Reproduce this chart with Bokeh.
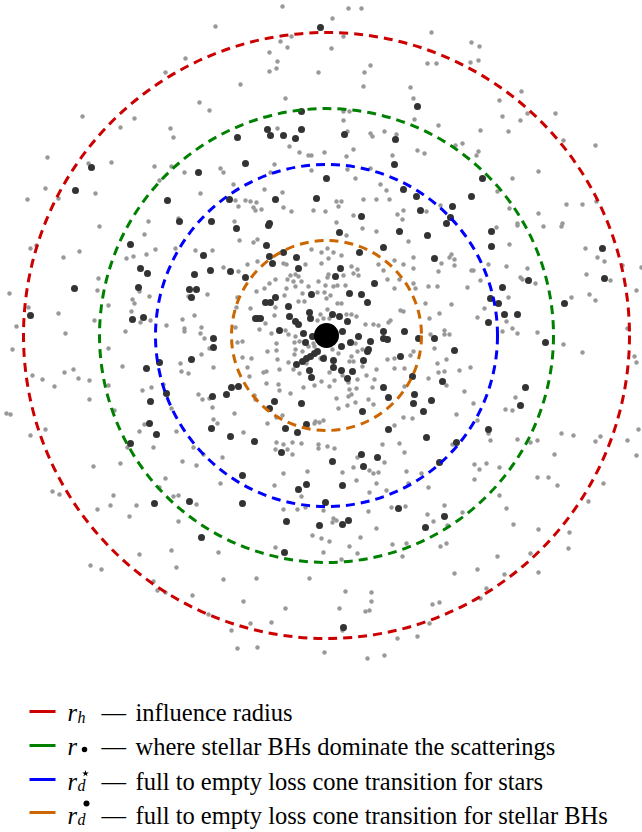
from bokeh.plotting import figure
from bokeh.models import Range1d, Label
from bokeh.embed import file_html
from bokeh.resources import INLINE

# ---------------- data (positions in picture units, y pointing down) ----------------
center = (326, 335)                      # central massive black hole
radii_names = ["r_h", "r_bullet", "r_d_star", "r_d_bullet"]
radii = [303, 227, 171, 95]
radii_colors = ["#cc0000", "#008000", "#0000ff", "#cc6600"]

legend_texts = [
    "influence radius",
    "where stellar BHs dominate the scatterings",
    "full to empty loss cone transition for stars",
    "full to empty loss cone transition for stellar BHs",
]

gray_stars = [
    (185,58),(165,72),(199,102),(209,110),(82,116),(134,118),(120,127),(170,128),(173,137),(47,157),
    (111,162),(88,163),(154,166),(171,166),(184,172),(159,180),(45,188),(58,198),(95,193),(27,199),
    (200,193),(148,221),(178,218),
    (282,6),(348,8),(361,8),(332,18),(215,26),(343,36),(280,41),(291,36),(269,52),(287,47),(331,48),
    (277,61),(269,71),(276,68),(318,72),(370,65),(364,72),(427,63),(240,84),(363,86),(410,87),(285,98),
    (413,98),(343,111),(349,111),(414,119),(343,120),(277,128),(347,131),(370,133),(372,136),(384,131),
    (396,134),(289,146),(353,149),(299,152),(308,155),(311,155),(324,152),(346,156),(392,155),(417,150),
    (424,153),(274,164),(220,168),(223,172),(311,170),(347,169),(370,168),(270,172),(355,178),(233,184),
    (264,189),(282,192),(380,184),(386,190),(235,200),(245,200),(250,201),(256,202),(238,206),(253,207),
    (255,210),(261,209),(283,207),(291,211),(313,210),(325,211),(336,201),(341,201),(338,206),(363,199),
    (376,199),(389,199),(397,214),(403,210),(402,219),(353,215),(336,222),(234,221),(426,211),
    (431,32),(471,42),(479,46),(436,63),(470,62),(478,60),(521,91),(499,100),(527,113),(555,113),
    (502,116),(520,120),(438,125),(480,130),(508,131),(563,140),(595,145),(455,145),(462,143),(478,151),
    (476,155),(538,171),(512,178),(497,191),(566,204),(582,204),(596,201),(509,208),(538,213),(440,205),
    (517,223),(562,223),
    (99,226),(144,234),(36,245),(30,248),(79,251),(63,257),(126,258),(133,256),(146,254),(155,249),
    (175,248),(195,250),(212,250),(98,278),(97,290),(9,293),(132,299),(134,303),(149,296),(139,291),
    (108,305),(28,307),(58,313),(131,311),(94,320),(140,322),(150,320),(166,325),(182,319),(194,315),
    (188,296),(207,294),(16,326),(65,333),(125,331),(184,328),(184,331),(201,327),(200,333),(204,338),
    (12,349),(108,348),(209,348),(201,354),(122,366),(180,363),(181,371),(188,373),(213,367),(32,375),
    (42,379),(64,372),(73,369),(78,378),(89,380),(54,386),(108,385),(142,390),(151,387),(163,384),
    (89,399),(198,394),(202,399),(209,398),(171,408),(212,407),(114,410),(6,413),(10,414),(45,429),
    (30,435),(144,424),(139,431),(176,431),(213,419),(127,447),(153,447),(193,447),
    (239,240),(257,239),(253,242),(311,249),(321,252),(327,248),(333,252),(346,235),(362,228),(376,231),
    (408,241),(413,257),(428,286),(223,267),(238,271),(247,264),(257,261),(283,263),(286,264),(305,264),
    (321,263),(328,258),(341,255),(351,266),(357,269),(353,273),(358,275),(378,264),(383,270),(394,260),
    (403,264),(413,268),(290,275),(295,274),(298,276),(287,279),(293,281),(301,281),(308,286),(318,281),
    (327,277),(325,285),(333,286),(337,285),(345,285),(343,275),(328,274),(275,279),(269,283),(264,288),
    (256,291),(237,297),(236,307),(286,288),(295,286),(302,293),(284,295),(298,301),(304,301),(317,292),
    (324,292),(330,295),(326,298),(337,303),(341,303),(327,309),(320,314),(323,318),(329,318),(317,320),
    (346,314),(351,314),(356,316),(365,324),(373,324),(378,325),(390,320),(388,322),(400,310),(403,311),
    (394,288),(387,279),(399,279),(413,283),(415,288),(425,303),(274,315),(275,307),(250,308),(265,323),
    (259,329),(271,333),(285,330),(288,334),(295,336),(294,342),(299,341),(306,341),(313,343),(308,346),
    (314,346),(302,351),(295,349),(294,354),(276,343),(276,350),(267,351),(251,358),(242,357),(237,342),
    (242,341),(235,327),(247,367),(263,372),(266,371),(266,383),(278,384),(279,390),(290,393),(277,359),
    (279,369),(288,362),(293,369),(306,363),(299,373),(303,387),(314,385),(321,381),(329,386),(329,372),
    (334,380),(342,375),(348,382),(349,389),(351,394),(348,396),(356,388),(357,379),(366,375),(374,379),
    (372,387),(376,369),(387,359),(394,358),(404,368),(394,368),(404,386),(410,355),(413,351),(362,349),
    (357,351),(355,343),(351,356),(349,361),(353,361),(362,366),(327,345),(324,356),(320,358),(338,353),
    (332,349),(249,376),(254,395),(255,399),(234,413),(243,432),(267,423),(282,415),(276,417),(315,421),
    (314,423),(319,422),(323,420),(336,398),(338,408),(347,405),(355,402),(368,399),(373,404),(394,425),
    (403,417),(412,418),(382,444),(399,443),(327,446),(318,444),(301,443),(292,442),(283,444),(276,442),
    (217,423),
    (496,227),(517,225),(543,226),(561,226),(585,248),(597,257),(604,261),(509,244),(449,257),(454,259),
    (451,254),(441,263),(454,265),(438,271),(471,270),(473,270),(488,264),(506,266),(527,268),(520,277),
    (522,279),(535,283),(480,280),(467,287),(437,286),(586,274),(610,280),(622,265),(636,290),(641,267),
    (589,294),(595,300),(571,297),(508,297),(451,304),(477,317),(484,308),(506,321),(439,313),(429,318),
    (502,331),(512,328),(517,333),(537,332),(444,330),(444,334),(449,334),(430,334),(434,348),(563,344),
    (582,352),(627,328),(634,356),(636,362),(446,359),(437,363),(470,367),(459,370),(438,372),(444,371),
    (446,385),(464,391),(428,378),(473,403),(515,397),(505,409),(512,410),(456,414),(477,420),(488,433),
    (490,440),(517,439),(530,442),(537,440),(561,433),(573,435),(595,441),(600,436),(627,440),(638,429),
    (452,444),
    (203,454),(93,466),(120,463),(182,461),(196,465),(165,478),(159,487),(173,496),(178,495),(196,504),
    (52,491),(59,494),(113,495),(97,509),(110,505),(136,505),(129,516),(178,521),(139,554),(171,550),
    (176,567),(90,565),(101,569),(153,581),(157,590),(165,592),(192,595),(208,614),
    (222,457),(275,449),(287,449),(292,454),(318,448),(334,448),(357,457),(384,462),(404,452),(220,483),
    (283,473),(307,471),(274,485),(301,496),(305,507),(297,509),(283,509),(323,510),(342,472),(353,467),
    (356,480),(369,470),(373,473),(378,472),(376,483),(369,492),(386,490),(408,483),(406,471),(421,473),
    (428,487),(391,507),(405,506),(368,511),(427,514),(333,518),(332,522),(336,520),(376,528),(312,535),
    (321,538),(329,541),(360,537),(349,546),(357,553),(323,552),(341,559),(392,544),(406,543),(402,556),
    (275,547),(218,552),(223,579),(256,578),(309,578),(345,591),(371,592),(371,601),(369,610),(365,611),
    (339,608),(243,601),(285,608),(250,623),(271,622),(231,630),(342,630),(397,638),(417,636),(237,648),
    (257,647),(324,652),(367,658),(384,655),
    (554,454),(636,455),(474,464),(486,463),(479,469),(499,467),(474,479),(537,477),(548,477),(557,485),
    (603,483),(499,495),(588,501),(444,505),(462,512),(433,521),(447,525),(506,508),(513,524),(538,529),
    (569,532),(568,548),(440,546),(446,543),(497,556),(530,553),(454,573),(477,569),(504,574),(538,572),
    (486,588),(480,598),(432,604),(439,602),(429,623),
]

dark_bhs = [
    (91,167),(75,190),(198,172),(167,200),(179,221),(211,221),
    (320,27),(417,106),(301,111),(267,129),(301,129),(237,137),(270,135),(283,135),(295,138),(344,134),
    (395,139),(245,163),(394,164),(326,178),(403,189),(416,196),(229,199),(275,199),(316,198),(420,210),
    (361,216),(269,223),
    (482,178),(471,196),(452,206),(450,217),(446,223),
    (130,244),(203,255),(140,268),(147,273),(194,274),(210,270),(138,287),(189,289),(196,289),(191,297),
    (74,288),(30,315),(143,317),(132,319),(213,338),(213,347),(191,359),(159,362),(146,368),(166,393),
    (212,396),(150,401),(149,423),(156,434),(211,428),(130,443),
    (236,228),(268,225),(339,232),(399,231),(427,235),(266,245),(269,256),(283,252),(296,257),(359,252),
    (383,247),(230,271),(272,263),(298,268),(340,268),(245,277),(335,276),(374,283),(311,294),(349,293),
    (361,294),(367,302),(275,297),(265,302),(270,302),(288,306),(332,314),(339,316),(347,321),(309,312),
    (310,318),(257,318),(255,318),(260,318),(289,316),(295,321),(298,324),(303,333),(279,330),(358,336),
    (370,341),(383,331),(383,338),(387,339),(404,331),(418,338),(342,331),(350,342),(341,346),(312,336),
    (305,342),(317,351),(314,353),(323,358),(333,360),(363,360),(367,351),(368,349),(400,356),(296,364),
    (302,361),(306,358),(310,356),(309,370),(333,367),(341,370),(352,371),(311,377),(347,378),(238,386),
    (231,387),(226,394),(383,387),(388,397),(414,394),(413,403),(412,376),(274,401),(301,403),(269,408),
    (362,411),(423,411),(285,428),(297,432),(306,424),(230,436),(254,441),(388,429),(426,437),
    (491,231),(491,246),(434,258),(602,248),(604,278),(528,280),(502,287),(490,298),(498,303),(504,314),
    (517,314),(488,322),(564,303),(434,338),(454,350),(545,342),(442,381),(431,400),(525,387),(520,405),
    (488,429),(456,442),
    (154,503),(189,501),(201,537),
    (281,452),(332,461),(361,454),(363,466),(377,457),(242,475),(306,484),(298,489),(342,485),(325,502),
    (242,503),(398,508),(286,521),(319,525),(342,524),(348,520),(425,527),(284,552),(343,627),
    (439,462),(444,516),
]

gx = [p[0] for p in gray_stars]
gy = [p[1] for p in gray_stars]
dx = [p[0] for p in dark_bhs]
dy = [p[1] for p in dark_bhs]

# ---------------- figure ----------------
W, H = 642, 832
p = figure(width=W, height=H, x_range=Range1d(0, W), y_range=Range1d(H, 0),
           output_backend="svg", toolbar_location=None, min_border=0,
           x_axis_location=None, y_axis_location=None)
p.grid.visible = False
p.outline_line_color = None
p.background_fill_color = "white"
p.border_fill_color = "white"

p.scatter(gx, gy, size=4.5, marker="circle", fill_color="#999999", line_color=None)
p.scatter(dx, dy, size=7, marker="circle", fill_color="#333333", line_color=None)
p.scatter([center[0]], [center[1]], size=25, marker="circle", fill_color="black", line_color=None)

p.circle(x=[center[0]] * len(radii), y=[center[1]] * len(radii), radius=radii,
         fill_color=None, line_color=radii_colors, line_width=3, line_dash="9 6")

# ---------------- legend (manual, math-style labels) ----------------
serif = "'Liberation Serif', 'DejaVu Serif', serif"
fs = "24.5px"
sub_fs = "16px"
text_y = [711.5, 746, 780.5, 815]
mid_y = [711, 745, 779, 812]

p.segment(x0=[29] * 4, y0=mid_y, x1=[55] * 4, y1=mid_y, line_color=radii_colors, line_width=3)

for i, txt in enumerate(legend_texts):
    ty = text_y[i]
    p.add_layout(Label(x=67, y=ty, text="r", text_font=serif, text_font_style="italic",
                       text_font_size=fs, text_baseline="alphabetic", text_color="black"))
    p.add_layout(Label(x=101, y=ty, text="\u2014", text_font=serif,
                       text_font_size=fs, text_baseline="alphabetic", text_color="black"))
    p.add_layout(Label(x=135, y=ty, text=txt, text_font=serif,
                       text_font_size=fs, text_baseline="alphabetic", text_color="black"))

# subscripts / superscripts
p.add_layout(Label(x=77, y=717, text="h", text_font=serif, text_font_style="italic",
                   text_font_size=sub_fs, text_baseline="alphabetic", text_color="black"))
p.scatter([84], [749], size=5.5, marker="circle", fill_color="black", line_color=None)
p.add_layout(Label(x=77, y=784.5, text="d", text_font=serif, text_font_style="italic",
                   text_font_size=sub_fs, text_baseline="alphabetic", text_color="black"))
p.scatter([85], [773], size=7, marker="star", fill_color="black", line_color=None)
p.add_layout(Label(x=77, y=818.5, text="d", text_font=serif, text_font_style="italic",
                   text_font_size=sub_fs, text_baseline="alphabetic", text_color="black"))
p.scatter([86], [803], size=6, marker="circle", fill_color="black", line_color=None)

open("out.html", "w").write(file_html(p, INLINE))
